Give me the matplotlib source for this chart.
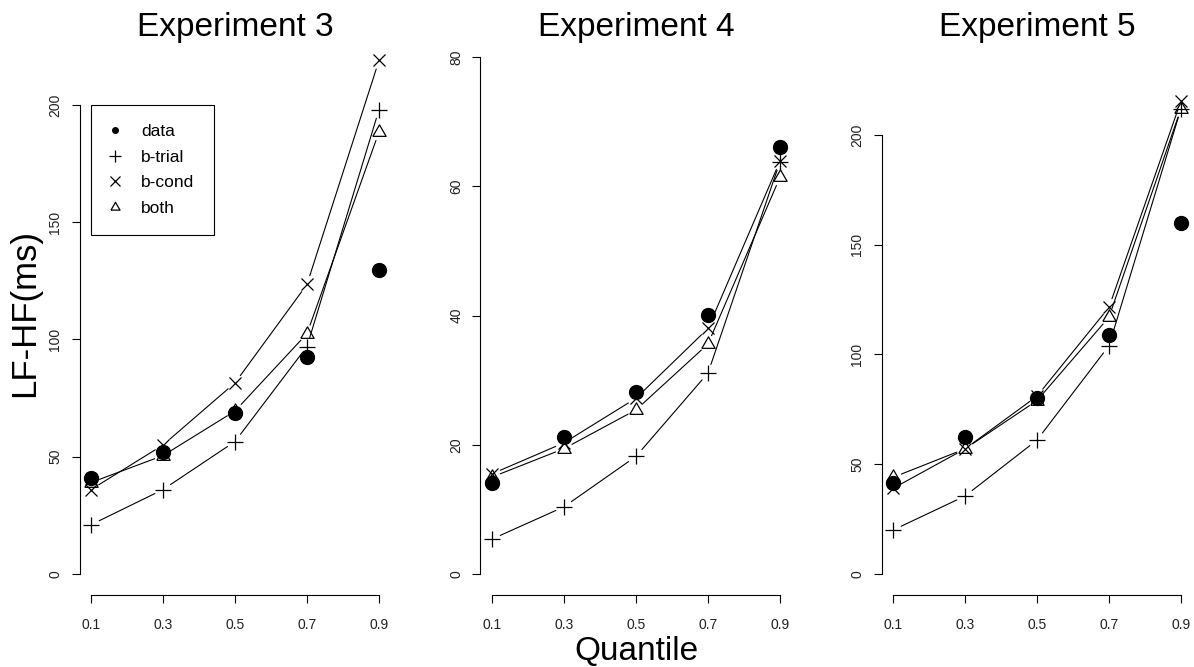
import matplotlib
matplotlib.use("Agg")
import matplotlib.pyplot as plt
from matplotlib.lines import Line2D

plt.rcParams['font.family'] = ['Liberation Sans', 'DejaVu Sans']

quantiles = [0.1, 0.3, 0.5, 0.7, 0.9]
titles = ['Experiment 3', 'Experiment 4', 'Experiment 5']
series_names = ['data', 'b-trial', 'b-cond', 'both']

exp3_data = [41, 52, 68.5, 92.5, 129.5]
exp3_btrial = [21, 36, 56.5, 97, 198]
exp3_bcond = [36, 55, 81.5, 123.5, 219]
exp3_both = [39, 50.5, 69.5, 102.5, 188.5]

exp4_data = [14.1, 21.2, 28.2, 40.1, 66.1]
exp4_btrial = [5.4, 10.4, 18.2, 31.1, 63.8]
exp4_bcond = [15.5, 20.3, 27.2, 38.0, 63.9]
exp4_both = [15.0, 19.4, 25.4, 35.6, 61.4]

exp5_data = [41.4, 62.4, 80, 109, 160]
exp5_btrial = [20, 35.5, 61, 104, 212]
exp5_bcond = [39, 57, 81, 121.5, 215.5]
exp5_both = [44, 57, 79, 117, 212]

y_ticks = [[0, 50, 100, 150, 200], [0, 20, 40, 60, 80], [0, 50, 100, 150, 200]]
y_limits = [(-8.96, 229), (-3.25, 83.1), (-9.57, 244.6)]

experiments = [
    (exp3_data, exp3_btrial, exp3_bcond, exp3_both),
    (exp4_data, exp4_btrial, exp4_bcond, exp4_both),
    (exp5_data, exp5_btrial, exp5_bcond, exp5_both),
]

W, H = 1194, 667
fig = plt.figure(figsize=(W / 100, H / 100), dpi=100)
fig.patch.set_facecolor('white')

# equilateral open triangle like R pch=2
tri = [(-1, -0.58), (1, -0.58), (0, 1.15), (-1, -0.58)]

lefts = [79.5, 480.5, 881.5]
for i, (data, btrial, bcond, both) in enumerate(experiments):
    ax = fig.add_axes([lefts[i] / W, 72 / H, 311 / W, 558 / H])
    ax.set_xlim(0.068, 0.932)
    ax.set_ylim(*y_limits[i])

    for s in [btrial, bcond, both]:
        # type="b": line segments stop short of the points
        for j in range(len(quantiles) - 1):
            ax.annotate('', xy=(quantiles[j + 1], s[j + 1]), xytext=(quantiles[j], s[j]),
                        xycoords='data', textcoords='data',
                        arrowprops=dict(arrowstyle='-', shrinkA=6.5, shrinkB=6.5,
                                        color='black', lw=0.8))

    ax.plot(quantiles, data, linestyle='none', marker='o', markersize=10,
            color='black')
    ax.plot(quantiles, btrial, linestyle='none', marker='+', markersize=11,
            markeredgewidth=0.9, color='black')
    ax.plot(quantiles, bcond, linestyle='none', marker='x', markersize=8.5,
            markeredgewidth=0.9, color='black')
    ax.plot(quantiles, both, linestyle='none', marker=tri, markersize=11,
            markeredgewidth=0.9, markerfacecolor='none', color='black')

    for side in ['top', 'right']:
        ax.spines[side].set_visible(False)
    ax.spines['left'].set_bounds(y_ticks[i][0], y_ticks[i][-1])
    ax.spines['bottom'].set_bounds(0.1, 0.9)
    ax.spines['left'].set_linewidth(0.8)
    ax.spines['bottom'].set_linewidth(0.8)

    ax.set_xticks(quantiles)
    ax.set_xticklabels(['0.1', '0.3', '0.5', '0.7', '0.9'])
    ax.set_yticks(y_ticks[i])
    ax.tick_params(axis='both', direction='out', length=5.8, width=0.8,
                   labelsize=10, labelcolor='#222222')
    ax.tick_params(axis='x', pad=10.5)
    ax.tick_params(axis='y', pad=6.5)
    for lab in ax.get_yticklabels():
        lab.set_rotation(90)
        lab.set_va('center')

    fig.text((lefts[i] + 155.5) / W, 1 - 36 / H, titles[i], fontsize=24,
             ha='center', va='baseline')

    if i == 0:
        handles = [
            Line2D([], [], linestyle='none', marker='o', markersize=4, color='black'),
            Line2D([], [], linestyle='none', marker='+', markersize=9,
                   markeredgewidth=0.9, color='black'),
            Line2D([], [], linestyle='none', marker='x', markersize=6.5,
                   markeredgewidth=0.9, color='black'),
            Line2D([], [], linestyle='none', marker=tri, markersize=7.5,
                   markeredgewidth=0.9, markerfacecolor='none', color='black'),
        ]
        leg = ax.legend(handles, series_names, loc='upper left',
                        bbox_to_anchor=(0.1, 200), bbox_transform=ax.transData,
                        borderaxespad=0, fancybox=False, edgecolor='black',
                        framealpha=1, fontsize=12.5, handlelength=0.6,
                        handletextpad=1.2, borderpad=1.1, labelspacing=0.6)
        leg.get_frame().set_linewidth(0.8)

fig.text(25 / W, 1 - 313 / H, 'LF-HF(ms)', fontsize=25, rotation=90,
         ha='center', va='center')
fig.text(636 / W, 7 / H, 'Quantile', fontsize=24, ha='center', va='baseline')

plt.savefig('out.png', dpi=100)
